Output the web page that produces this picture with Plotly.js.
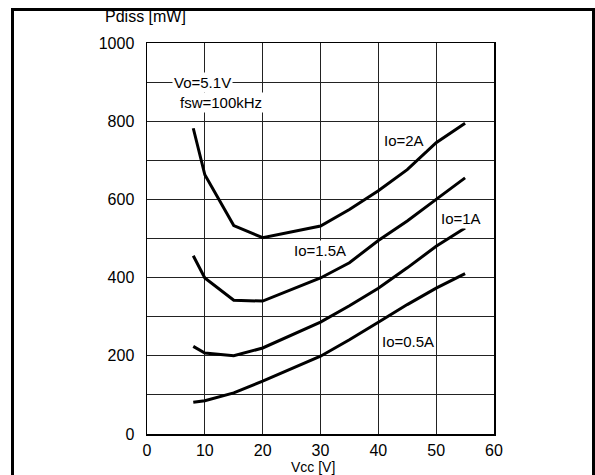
<!DOCTYPE html>
<html>
<head>
<meta charset="utf-8">
<script src="https://cdn.plot.ly/plotly-3.0.1.min.js"></script>
<style>
  html, body { margin: 0; padding: 0; background: #fff; overflow: hidden; }
  #frame { position: absolute; left: 11px; top: 8px; width: 578px; height: 500px;
           border: 3px solid #000; box-sizing: content-box; pointer-events: none; z-index: 10; }
  #chart { position: absolute; left: 0; top: 0; width: 595px; height: 475px; }
</style>
</head>
<body>
<div id="chart"></div>
<div id="frame"></div>
<script>
// Vcc [V]
const vcc = [8, 10, 15, 20, 30, 35, 40, 45, 50, 55];
// Pdiss [mW] per output current
const io2A   = [782, 663, 533, 502, 532, 574, 622, 676, 745, 795];
const io15A  = [456, 399, 342, 340, 399, 438, 495, 545, 600, 655];
const io1A   = [224, 207, 200, 220, 286, 328, 373, 425, 480, 527];
const io05A  = [81, 85, 105, 135, 199, 241, 286, 331, 373, 410];

const xTicks = [0, 10, 20, 30, 40, 50, 60];
const yTicks = [0, 200, 400, 600, 800, 1000];

const seriesNames = ['Io=2A', 'Io=1.5A', 'Io=1A', 'Io=0.5A'];
const seriesVals = [io2A, io15A, io1A, io05A];

const traces = seriesVals.map((vals, i) => ({
  x: vcc, y: vals, name: seriesNames[i], type: 'scatter', mode: 'lines',
  line: {color: '#000', width: 3}, hoverinfo: 'skip'
}));

const font = {family: 'Liberation Sans, Arial, sans-serif', size: 16, color: '#000'};

const ann = (text, x, y, xanchor) => ({
  text: text, x: x, y: y, xref: 'x', yref: 'y', showarrow: false,
  xanchor: xanchor || 'center', yanchor: 'middle', bgcolor: '#fff', borderpad: 1,
  font: {family: font.family, size: 15, color: '#000'}
});

const layout = {
  width: 595, height: 475,
  margin: {l: 147, r: 101, t: 43, b: 41},
  paper_bgcolor: '#fff', plot_bgcolor: '#fff',
  showlegend: false,
  font: font,
  xaxis: {
    range: [0, 60], tickvals: xTicks, ticktext: xTicks.map(String),
    showgrid: true, gridcolor: '#222', gridwidth: 1,
    showline: true, linecolor: '#000', linewidth: 1.5, mirror: true,
    zeroline: false, ticks: '', ticklabelstandoff: 1, tickfont: font
  },
  yaxis: {
    range: [0, 1000], tickvals: yTicks, ticktext: yTicks.map(String),
    showgrid: false,
    showline: true, linecolor: '#000', linewidth: 1.5, mirror: true,
    zeroline: false, ticks: '', ticklabelstandoff: 8, tickfont: font
  },
  yaxis2: {
    range: [0, 1000], overlaying: 'y', dtick: 100, tick0: 0,
    showgrid: true, gridcolor: '#222', gridwidth: 1, showticklabels: false,
    zeroline: false
  },
  annotations: [
    {text: 'Pdiss [mW]', xref: 'paper', yref: 'paper', x: -0.003, y: 1.068,
     xanchor: 'center', yanchor: 'middle', showarrow: false, font: font},
    {text: 'Vcc [V]', xref: 'paper', yref: 'paper', x: 0.478, y: -0.0845,
     xanchor: 'center', yanchor: 'middle', showarrow: false,
     font: {family: font.family, size: 14, color: '#000'}},
    ann('Vo=5.1V', 4.4, 898, 'left'),
    ann('fsw=100kHz', 5.3, 847, 'left'),
    ann('Io=2A', 44.4, 750),
    ann('Io=1.5A', 29.9, 469),
    ann('Io=1A', 54.3, 552),
    ann('Io=0.5A', 45.1, 236)
  ]
};

// invisible trace that activates the secondary axis carrying the 100-step grid
traces.unshift({x: [0], y: [0], yaxis: 'y2', mode: 'markers', marker: {opacity: 0}, hoverinfo: 'skip'});

Plotly.newPlot('chart', traces, layout, {staticPlot: true});
</script>
</body>
</html>
